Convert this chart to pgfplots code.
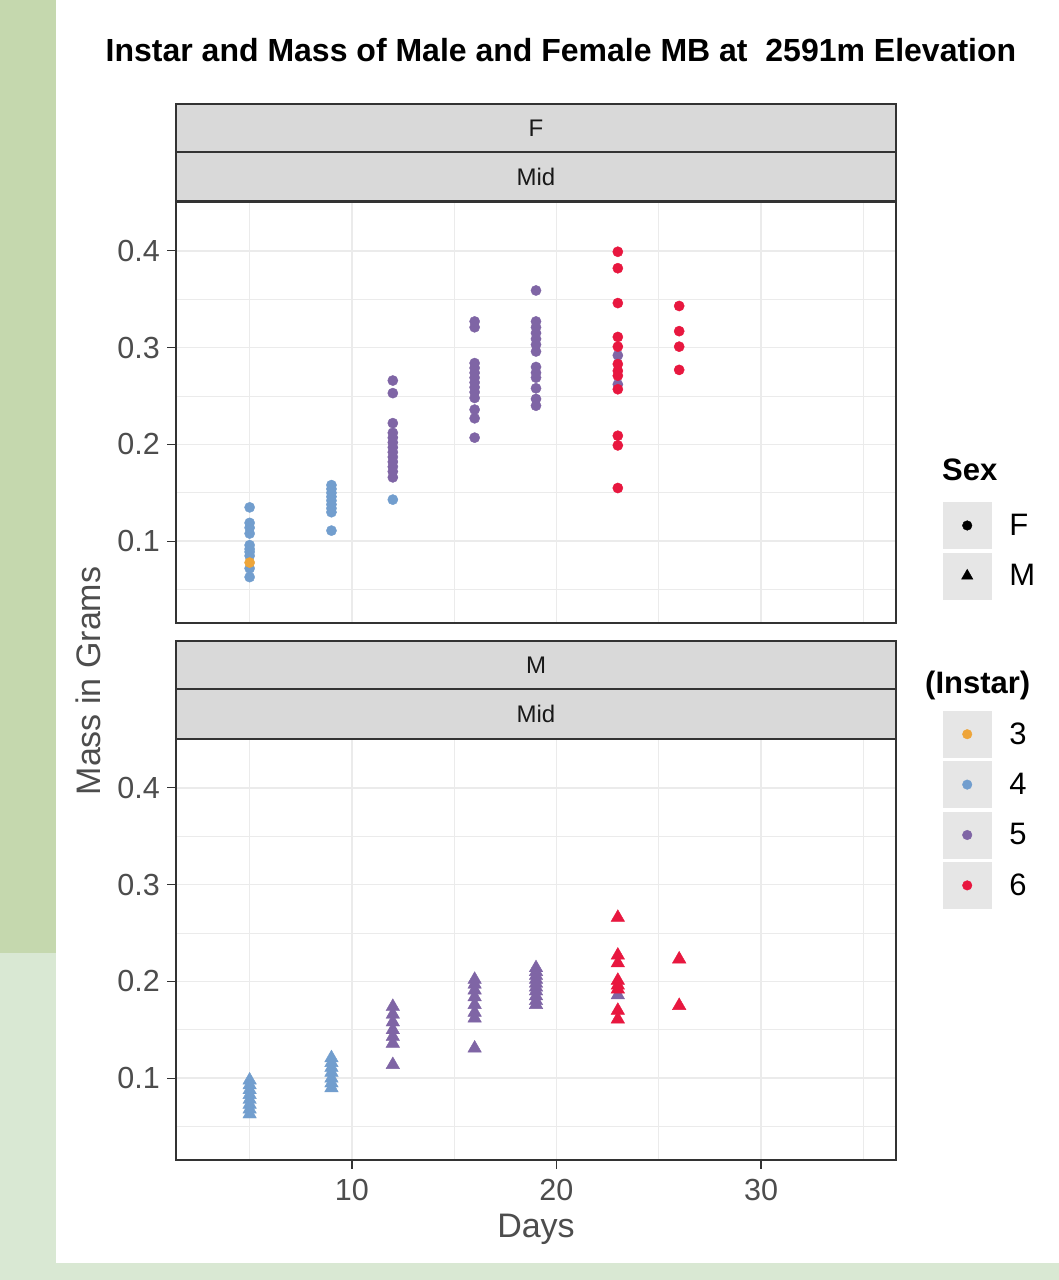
\documentclass[border=0pt]{standalone}
\usepackage{fontspec}
\setmainfont{Liberation Sans}
\usepackage{pgfplots}
\usepackage{pgfplotstable}
\pgfplotsset{compat=1.18}
\definecolor{gdark}{HTML}{C5D8AE}
\definecolor{glight}{HTML}{D9E8D3}
\definecolor{stripc}{HTML}{D9D9D9}
\definecolor{framec}{HTML}{333333}
\definecolor{gridc}{HTML}{EBEBEB}
\definecolor{tickc}{HTML}{4D4D4D}
\definecolor{keybg}{HTML}{E6E6E6}
\definecolor{cthree}{HTML}{EEA53A}
\definecolor{cfour}{HTML}{729ECE}
\definecolor{cfive}{HTML}{7F65A5}
\definecolor{csix}{HTML}{E8173F}

% Female (circles)
\pgfplotstableread{
x y
5 0.078
}\FthreeTab
\pgfplotstableread{
x y
5 0.135
5 0.119
5 0.114
5 0.108
5 0.096
5 0.092
5 0.089
5 0.085
5 0.072
5 0.063
9 0.158
9 0.154
9 0.150
9 0.146
9 0.142
9 0.138
9 0.134
9 0.130
9 0.111
12 0.143
}\FfourTab
\pgfplotstableread{
x y
12 0.266
12 0.253
12 0.222
12 0.212
12 0.207
12 0.202
12 0.197
12 0.192
12 0.187
12 0.182
12 0.177
12 0.172
12 0.166
16 0.327
16 0.321
16 0.284
16 0.279
16 0.274
16 0.269
16 0.264
16 0.259
16 0.254
16 0.248
16 0.236
16 0.227
16 0.207
19 0.359
19 0.327
19 0.321
19 0.315
19 0.309
19 0.303
19 0.296
19 0.280
19 0.274
19 0.269
19 0.258
19 0.247
19 0.240
23 0.292
23 0.262
}\FfiveTab
\pgfplotstableread{
x y
23 0.399
23 0.382
23 0.346
23 0.311
23 0.301
23 0.283
23 0.276
23 0.271
23 0.257
23 0.209
23 0.199
23 0.155
26 0.343
26 0.317
26 0.301
26 0.277
}\FsixTab
% Male (triangles)
\pgfplotstableread{
x y
5 0.098
5 0.093
5 0.088
5 0.083
5 0.078
5 0.073
5 0.068
5 0.063
9 0.121
9 0.116
9 0.111
9 0.106
9 0.100
9 0.095
9 0.090
}\MfourTab
\pgfplotstableread{
x y
12 0.174
12 0.166
12 0.158
12 0.150
12 0.143
12 0.136
12 0.114
16 0.202
16 0.197
16 0.191
16 0.184
16 0.176
16 0.168
16 0.162
16 0.131
19 0.214
19 0.210
19 0.206
19 0.202
19 0.198
19 0.194
19 0.190
19 0.185
19 0.180
19 0.176
23 0.186
}\MfiveTab
\pgfplotstableread{
x y
23 0.266
23 0.227
23 0.219
23 0.201
23 0.196
23 0.192
23 0.170
23 0.161
26 0.223
26 0.175
}\MsixTab

\pgfplotsset{
  panel/.style={
    scale only axis, width=720pt, height=421pt,
    xmin=1.4, xmax=36.6, ymin=0.0156, ymax=0.4504,
    xtick={10,20,30}, ytick={0.1,0.2,0.3,0.4},
    minor xtick={5,15,25,35}, minor ytick={0.05,0.15,0.25,0.35},
    grid=both,
    major grid style={draw=gridc, line width=1.7pt},
    minor grid style={draw=gridc, line width=0.9pt},
    axis line style={draw=framec, line width=1.3pt},
    tick align=outside, major tick length=9pt, minor tick length=0pt,
    tick style={draw=framec, line width=1.3pt},
    ytick pos=left, xtick pos=bottom,
    /pgf/number format/assume math mode=true,
    yticklabel={\pgfmathprintnumber[fixed,fixed zerofill,precision=1]{\tick}},
    yticklabel style={font=\fontsize{30.5}{30.5}\selectfont, text=tickc, inner sep=0pt, xshift=-7pt},
    xticklabel style={font=\fontsize{30.5}{30.5}\selectfont, text=tickc, inner sep=0pt, yshift=-10pt},
    legend cell align=left,
    legend style={draw=none, fill=none, inner sep=0pt, outer sep=0pt,
      row sep=4pt, column sep=16pt, font=\fontsize{31}{31}\selectfont,
      nodes={inner sep=2pt}},
    legend image code/.code={
      \fill[keybg] (0pt,-23pt) rectangle (48pt,23pt);
      \draw[##1] plot coordinates {(24pt,0pt)};
    },
  },
  fpt/.style={only marks, mark=*, mark size=5.1pt, forget plot},
  mpt/.style={only marks, mark=triangle*, mark size=7.8pt, forget plot},
}

\begin{document}
\begin{tikzpicture}[x=1pt,y=1pt]
\path[use as bounding box, fill=white] (0,0) rectangle (1059,1280);
\fill[gdark] (0,327) rectangle (56,1280);
\fill[glight] (0,0) rectangle (56,327);
\fill[glight] (0,0) rectangle (1059,17);

% top panel: F
\begin{axis}[panel, at={(176pt,657pt)}, anchor=south west,
  xticklabels={}, xmajorticks=false,
  legend style={at={(axis description cs:1.0653,0.2867)}, anchor=north west}]
\addplot[fpt, color=cfour] table {\FfourTab};
\addplot[fpt, color=cthree] table {\FthreeTab};
\addplot[fpt, color=cfive] table {\FfiveTab};
\addplot[fpt, color=csix] table {\FsixTab};
\addlegendimage{only marks, mark=*, black, mark size=4.8pt}
\addlegendentry{F}
\addlegendimage{only marks, mark=triangle*, black, mark size=6.6pt}
\addlegendentry{M}
\end{axis}

% bottom panel: M
\begin{axis}[panel, at={(176pt,120pt)}, anchor=south west,
  legend style={at={(axis description cs:1.0653,1.0665)}, anchor=north west}]
\addplot[mpt, color=cfour] table {\MfourTab};
\addplot[mpt, color=cfive] table {\MfiveTab};
\addplot[mpt, color=csix] table {\MsixTab};
\addlegendimage{only marks, mark=*, cthree, mark size=4.8pt}
\addlegendentry{3}
\addlegendimage{only marks, mark=*, cfour, mark size=4.8pt}
\addlegendentry{4}
\addlegendimage{only marks, mark=*, cfive, mark size=4.8pt}
\addlegendentry{5}
\addlegendimage{only marks, mark=*, csix, mark size=4.8pt}
\addlegendentry{6}
\end{axis}

% strips
\begin{scope}[line width=1.3pt]
\filldraw[fill=stripc, draw=framec] (176,1128) rectangle (896,1176);
\filldraw[fill=stripc, draw=framec] (176,1079) rectangle (896,1128);
\filldraw[fill=stripc, draw=framec] (176,591) rectangle (896,639);
\filldraw[fill=stripc, draw=framec] (176,541) rectangle (896,591);
\end{scope}
\begin{scope}[every node/.style={font=\fontsize{24}{24}\selectfont, text=black!90, anchor=base, inner sep=0pt}]
\node at (536,1143) {F};
\node at (536,1094) {Mid};
\node at (536,606) {M};
\node at (536,557) {Mid};
\end{scope}

% titles
\node[anchor=base, inner sep=0pt, font=\fontsize{32}{32}\selectfont\bfseries] at (561,1218)
  {Instar and Mass of Male and Female MB at \ 2591m Elevation};
\node[anchor=base, inner sep=0pt, font=\fontsize{34}{34}\selectfont, text=tickc] at (536,42) {Days};
\node[anchor=base, rotate=90, inner sep=0pt, font=\fontsize{34}{34}\selectfont, text=tickc] at (100,599) {Mass in Grams};
\node[anchor=base west, inner sep=0pt, font=\fontsize{31}{31}\selectfont\bfseries] at (942,799) {Sex};
\node[anchor=base west, inner sep=0pt, font=\fontsize{31}{31}\selectfont\bfseries] at (925,586) {(Instar)};
\end{tikzpicture}
\end{document}
